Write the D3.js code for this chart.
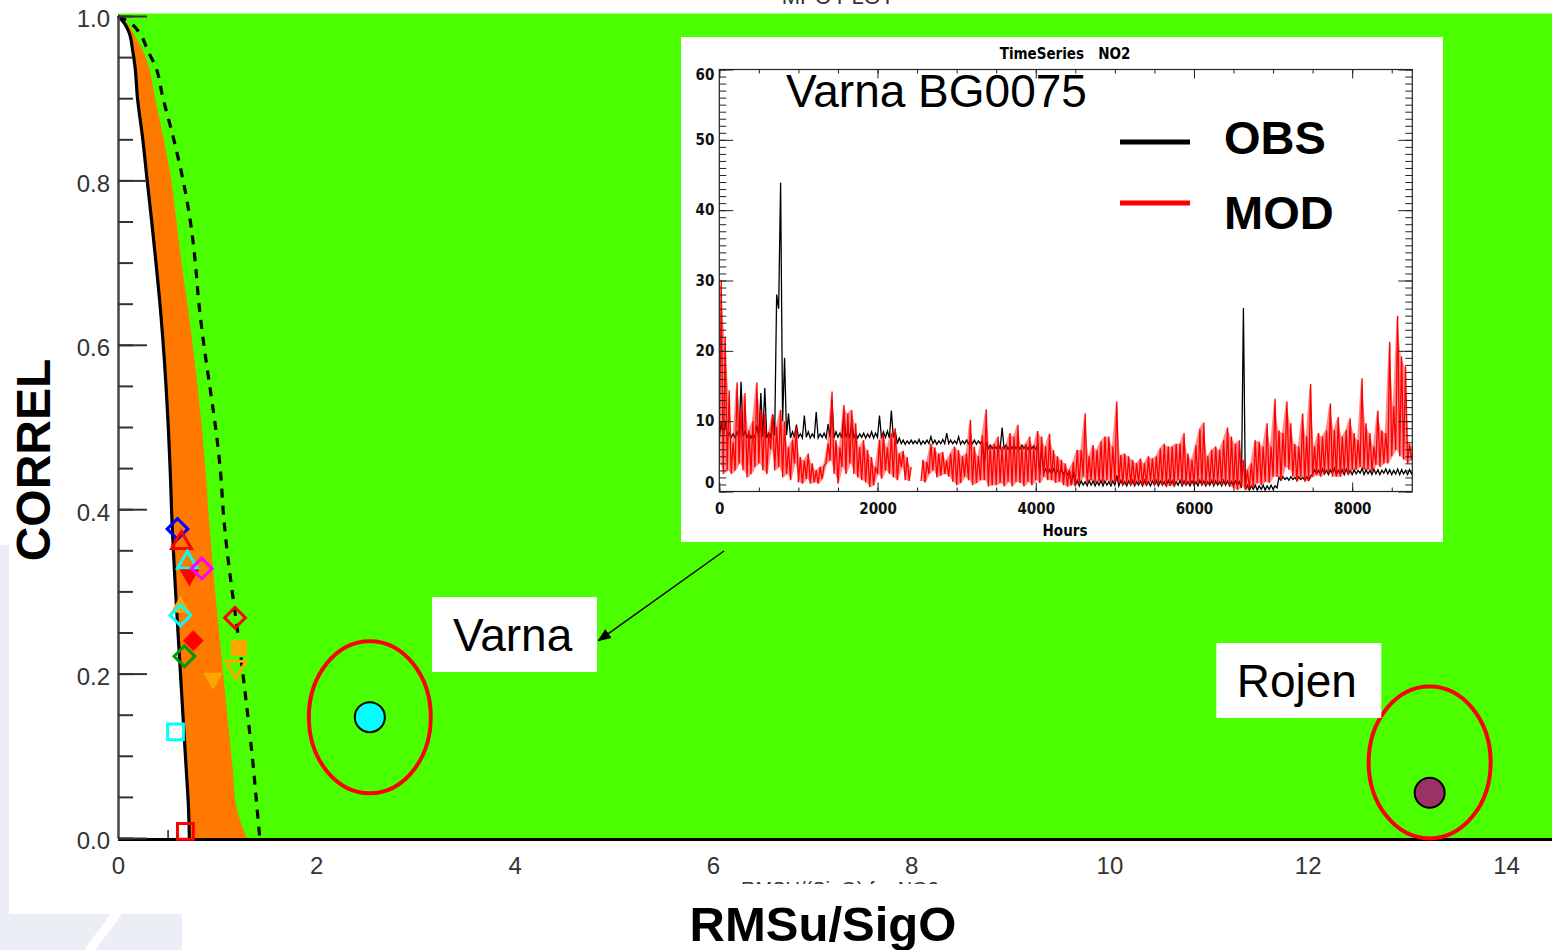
<!DOCTYPE html>
<html>
<head>
<meta charset="utf-8">
<script src="https://cdn.jsdelivr.net/npm/d3@7"></script>
<style>
  html, body { margin: 0; padding: 0; background: #ffffff; }
  svg { display: block; }
  .num { font-family: "Liberation Sans", Arial, sans-serif; }
  .idl { font-family: "Liberation Sans Narrow", "Arial Narrow", "DejaVu Sans Condensed", sans-serif; font-weight: bold; }
  .big { font-family: "Liberation Sans", Arial, Helvetica, sans-serif; }
</style>
</head>
<body>
<svg id="chart" width="1552" height="950"></svg>
<script>
// ---------------- MPC diagram: criteria curves (correlation vs RMSu/SigO) ----------------
const curveR      = [1.0, 0.99, 0.979, 0.958, 0.938, 0.902, 0.851, 0.798, 0.75, 0.70, 0.658, 0.436, 0.40, 0.20, 0.08, 0.04, 0.0];
const curveSolid  = [0.0, 0.07, 0.114, 0.148, 0.172, 0.195, 0.249, 0.296, 0.340, 0.383, 0.417, 0.53, 0.54, 0.63, 0.69, 0.71, 0.72];
const curveOrange = [0.0, 0.10, 0.155, 0.25, 0.31, 0.37, 0.46, 0.54, 0.59, 0.64, 0.69, 0.89, 0.91, 1.06, 1.16, 1.19, 1.30];
const curveDashed = [0.0, 0.14, 0.22, 0.30, 0.38, 0.45, 0.56, 0.66, 0.73, 0.78, 0.81, 1.04, 1.06, 1.26, 1.37, 1.40, 1.43];

// station markers near the criteria band
const stX     = [0.60, 0.64, 0.70, 0.72, 0.845, 0.63, 0.63, 1.18, 0.76, 0.67, 1.22, 1.19, 0.96, 0.58, 0.68];
const stR     = [0.376, 0.359, 0.335, 0.32, 0.328, 0.281, 0.271, 0.268, 0.240, 0.221, 0.231, 0.208, 0.194, 0.129, 0.008];
const stShape = ["diamond", "triUp", "triUp", "triDown", "diamond", "triUp", "diamond", "diamond", "diamond", "diamond", "square", "triDown", "triDown", "square", "square"];
const stColor = ["#0000ff", "#ff0000", "#00ffff", "#ff0000", "#ff00ff", "#ffa500", "#00ffff", "#ff0000", "#ff0000", "#009900", "#ffa500", "#ffa500", "#ffa500", "#00ffff", "#ff0000"];
const stFill  = [false, false, false, true, false, true, false, false, true, false, true, false, true, false, false];

// highlighted stations
const hlName  = ["Varna", "Rojen"];
const hlX     = [2.54, 13.23];
const hlR     = [0.147, 0.055];
const hlColor = ["#00ffff", "#993366"];
const hlRingR = [0.147, 0.092];
const hlLabelX = [4.0, 11.91];
const hlLabelR = [0.2475, 0.1916];

const xTicks = [0, 2, 4, 6, 8, 10, 12, 14];
const yTicks = [0.0, 0.2, 0.4, 0.6, 0.8, 1.0];

// ---------------- Inset: hourly NO2 at Varna BG0075, min/max per 50-hour window ----------------
const tsStep = 50;
const modHi = [30, 22, 14.4, 7, 15.5, 11.6, 14, 8.7, 10, 15.5,
  11.6, 11, 8.2, 11, 9.2, 11.6, 10, 6.3, 7.3, 9.2,
  4.9, 4.4, 5.4, 4, 3, 3.5, 3.7, 6.8, 14.2, 7.3,
  6.3, 12.3, 11.1, 11.6, 9.7, 6.3, 7.3, 5.9, 4.9, 3.5,
  7.3, 8.2, 6.3, 8.2, 9, 5.4, 5.8, 4.9, 3.5, null,
  null, 4.5, 4.2, 6.8, 6.3, 5.4, 5.6, 4.4, 5.4, 6.4,
  5.9, 5.0, 5.4, 10.2, 6.4, 5.0, 8.0, 11.7, 6.4, 6.8,
  7.8, 6.4, 6.4, 8.3, 7.8, 9.5, 6.4, 6.8, 7.8, 6.4,
  8.6, 7.8, 6.4, 8.2, 5.9, 5.0, 4.5, 4.0, 3.1, 4.2,
  5.9, 5.9, 11.1, 5.0, 6.6, 5.9, 7.1, 7.8, 7.8, 6.4,
  12.8, 5.2, 5.4, 5.0, 4.5, 4.0, 4.7, 4.0, 5.0, 4.7,
  5.0, 6.1, 6.8, 6.4, 6.4, 6.8, 6.8, 8.3, 5.4, 4.5,
  6.6, 8.9, 9.8, 5.0, 5.9, 6.4, 5.9, 7.3, 9.1, 7.8,
  6.8, 7.3, 4.5, 3.1, 4.0, 7.3, 7.1, 6.4, 9.7, 6.4,
  13.2, 8.7, 8.3, 12.8, 9.7, 6.8, 6.4, 11.1, 7.8, 15.3,
  6.4, 8.3, 7.8, 8.7, 12.5, 8.7, 10.6, 7.8, 8.7, 10.4,
  8.3, 7.3, 16.1, 9.7, 8.3, 6.4, 11.5, 8.7, 8.3, 21.3,
  12.1, 25.0, 19.2, 17.8, 6.8, 6.4];
const modLo = [4, 2.5, 3, 2.5, 3, 4, 3, 2, 2.5, 3.5,
  4, 3, 2.5, 6, 3, 3.5, 2, 2.5, 1.6, 4,
  1.3, 1.1, 1.8, 1.1, 1.3, 1.1, 1.8, 4, 4.4, 2.5,
  1.1, 3.5, 2.5, 4, 2.5, 2, 1.6, 1.3, 0.6, 0.9,
  2.5, 1.8, 3, 2.5, 2, 1.6, 3.5, 1.6, 1.5, null,
  null, 1.5, 1.3, 2.5, 3, 2, 2.3, 2.5, 2.1, 1.4,
  0.9, 1.2, 2.1, 1.6, 0.9, 1.2, 1.6, 1.6, 0.7, 0.9,
  0.9, 1.2, 0.7, 1.4, 0.7, 1.4, 1.2, 0.7, 1.4, 0.9,
  1.6, 1.2, 2.1, 1.6, 1.6, 1.2, 1.4, 0.9, 0.7, 0.9,
  0.9, 1.2, 2.1, 1.2, 1.6, 1.2, 1.4, 1.2, 1.6, 1.2,
  1.4, 1.2, 0.9, 1.2, 0.9, 0.9, 1.2, 0.9, 0.9, 1.4,
  0.9, 1.2, 0.9, 0.7, 0.9, 0.7, 1.6, 0.9, 0.9, 1.2,
  0.9, 1.2, 0.9, 0.9, 1.2, 0.9, 1.2, 0.9, 1.2, 0.7,
  0.45, 0.2, 0.7, 0.2, 0.45, 0.7, 1.2, 0.9, 1.4, 1.2,
  2.1, 2.1, 1.6, 3.5, 3.1, 2.1, 1.4, 2.1, 1.4, 1.6,
  2.1, 2.3, 2.1, 2.6, 2.8, 2.1, 2.1, 2.1, 2.8, 2.3,
  3.1, 3.1, 3.5, 3.1, 3.1, 2.8, 3.8, 3.5, 4.0, 4.0,
  5.0, 5.9, 5.0, 4.5, 4.0, 4.5];
const obsHi = [10.0, 10.1, 8.3, 8.2, 8.5, 15.6, 8.6, 8.3, 8.2, 9.4,
  14.0, 14.7, 8.3, 10.9, 28.0, 43.9, 19.0, 11.1, 8.5, 9.5,
  8.2, 10.8, 8.5, 8.2, 11.3, 8.2, 8.3, 9.6, 13.0, 8.5,
  8.3, 11.3, 8.5, 10.0, 8.3, 8.2, 8.3, 8.2, 8.5, 8.3,
  10.8, 8.5, 8.6, 11.5, 8.5, 7.6, 7.3, 7.2, 7.3, 7.2,
  7.4, 7.2, 7.3, 7.8, 7.3, 7.2, 7.4, 8.3, 7.3, 7.2,
  7.8, 7.2, 7.3, 7.2, 7.3, 7.2, 7.2, 7.0, 6.6, 6.5,
  6.6, 9.1, 6.6, 6.5, 6.6, 6.5, 6.6, 6.5, 6.6, 6.5,
  6.6, 6.5, 3.2, 3.1, 3.2, 3.0, 3.1, 3.1, 2.9, 2.8,
  1.6, 1.5, 1.4, 1.6, 1.5, 1.4, 1.6, 1.5, 1.4, 1.5,
  2.3, 1.6, 1.4, 1.5, 1.6, 1.4, 1.5, 1.6, 1.4, 1.5,
  1.6, 1.5, 1.4, 1.6, 1.5, 1.4, 1.6, 1.5, 1.4, 1.5,
  1.4, 1.6, 1.5, 1.4, 1.6, 1.5, 1.4, 1.6, 1.5, 1.4,
  1.5, 1.4, 26.1, 0.9, 0.8, 0.9, 0.8, 0.9, 0.8, 0.9,
  0.8, 2.0, 2.1, 2.0, 2.1, 2.0, 2.1, 2.0, 2.1, 2.2,
  3.1, 3.0, 3.2, 3.0, 3.1, 3.3, 3.0, 3.1, 3.2, 3.0,
  3.1, 3.0, 3.3, 3.1, 3.0, 3.2, 3.1, 3.0, 3.2, 3.1,
  3.0, 3.2, 3.1, 3.0, 3.1, 3.0];
const obsLo = [7.6, 7.8, 7.7, 7.7, 7.6, 7.7, 7.8, 7.7, 7.6, 7.7,
  7.7, 7.8, 7.6, 7.7, 8.0, 26.0, 10.0, 8.0, 7.6, 7.7,
  7.7, 7.6, 7.7, 7.6, 7.7, 7.6, 7.7, 7.6, 7.7, 7.6,
  7.7, 7.6, 7.7, 7.6, 7.7, 7.6, 7.7, 7.6, 7.7, 7.6,
  7.7, 7.6, 7.7, 7.6, 7.7, 6.8, 6.8, 6.7, 6.8, 6.8,
  6.8, 6.7, 6.8, 6.8, 6.8, 6.7, 6.8, 6.8, 6.8, 6.8,
  6.8, 6.7, 6.8, 6.8, 6.8, 6.7, 6.8, 4.0, 6.1, 6.1,
  6.1, 6.1, 6.1, 6.0, 6.1, 6.1, 6.0, 6.1, 6.0, 6.1,
  6.0, 2.5, 2.6, 2.6, 2.5, 2.5, 2.6, 2.5, 2.4, 1.0,
  0.9, 0.8, 0.9, 0.8, 0.9, 0.8, 0.9, 0.8, 0.9, 0.8,
  0.9, 0.8, 0.9, 0.8, 0.9, 0.8, 0.9, 0.8, 0.9, 0.8,
  0.9, 0.8, 0.9, 0.8, 0.9, 0.8, 0.9, 0.8, 0.9, 0.8,
  0.9, 0.8, 0.9, 0.8, 0.9, 0.8, 0.9, 0.8, 0.9, 0.8,
  0.8, 0.9, 0.5, 0.3, 0.2, 0.3, 0.2, 0.3, 0.2, 0.3,
  0.3, 0.5, 1.6, 1.7, 1.6, 1.7, 1.6, 1.7, 1.6, 1.6,
  2.4, 2.5, 2.4, 2.5, 2.4, 2.6, 2.4, 2.5, 2.4, 2.5,
  2.4, 2.5, 2.6, 2.4, 2.5, 2.4, 2.5, 2.4, 2.6, 2.5,
  2.4, 2.5, 2.4, 2.5, 2.4, 2.5];
const tsYTicks = [0, 10, 20, 30, 40, 50, 60];
const tsXTicks = [0, 2000, 4000, 6000, 8000];
const seriesName = ["OBS", "MOD"];
const seriesColor = ["#000000", "#ff0000"];

// ---------------- drawing ----------------
const W = 1552, H = 950;
const svg = d3.select("#chart");
const GREEN = "#4cff00", ORANGE = "#ff7800", SLIDE = "#eceef5";

// light slide backdrop peeking out at the lower-left corner
svg.append("rect").attr("x", 0).attr("y", 545).attr("width", 9).attr("height", 370).attr("fill", SLIDE);
svg.append("rect").attr("x", 0).attr("y", 914).attr("width", 182).attr("height", 36).attr("fill", SLIDE);
svg.append("line").attr("x1", 118).attr("y1", 912).attr("x2", 88).attr("y2", 952).attr("stroke", "#fff").attr("stroke-width", 9);

const x = d3.scaleLinear().domain([0, 14]).range([118, 1506]);
const y = d3.scaleLinear().domain([0, 1]).range([838, 16]);
const xEdge = x.invert(W);

const curveRows = curveR.map((r, i) => ({ r, s: curveSolid[i], o: curveOrange[i], d: curveDashed[i] }));

// small ticks along the correlation-zero line (only the ones left of the band stay visible)
svg.append("g")
  .attr("transform", `translate(0,${y(0)})`)
  .call(d3.axisBottom(x).tickValues(d3.range(0.5, 14.6, 0.5)).tickSizeInner(-8).tickSizeOuter(0).tickFormat(""))
  .call(g => g.select(".domain").remove())
  .call(g => g.selectAll("line").attr("stroke", "#222").attr("stroke-width", 1.5));

// green zone: everything right of the solid criteria curve
svg.append("rect").attr("x", x(0)).attr("y", y(1) - 2.5).attr("width", W - x(0)).attr("height", 2.8).attr("fill", GREEN);
svg.append("path")
  .datum(curveRows)
  .attr("fill", GREEN)
  .attr("d", d3.area().curve(d3.curveMonotoneY).y(d => y(d.r)).x0(d => x(d.s)).x1(() => x(xEdge)));

// orange band
svg.append("path")
  .datum(curveRows)
  .attr("fill", ORANGE)
  .attr("d", d3.area().curve(d3.curveMonotoneY).y(d => y(d.r)).x0(d => x(d.s)).x1(d => x(d.o)));

// solid and dashed criteria curves
svg.append("path").datum(curveRows)
  .attr("fill", "none").attr("stroke", "#000").attr("stroke-width", 3.2)
  .attr("d", d3.line().curve(d3.curveMonotoneY).x(d => x(d.s)).y(d => y(d.r)));
svg.append("path").datum(curveRows)
  .attr("fill", "none").attr("stroke", "#000").attr("stroke-width", 3.2).attr("stroke-dasharray", "9,8")
  .attr("d", d3.line().curve(d3.curveMonotoneY).x(d => x(d.d)).y(d => y(d.r)));

// x axis line and labels
svg.append("line").attr("x1", x(0)).attr("x2", W).attr("y1", y(0) + 1.5).attr("y2", y(0) + 1.5)
  .attr("stroke", "#000").attr("stroke-width", 3);
svg.append("g")
  .attr("transform", `translate(0,${y(0)})`)
  .call(d3.axisBottom(x).tickValues(xTicks).tickSize(0).tickPadding(19).tickFormat(d3.format("d")))
  .call(g => g.select(".domain").remove())
  .call(g => g.selectAll("text").attr("class", "num").attr("font-size", 24).attr("fill", "#333"));

// y axis: minor and major ticks pointing into the plot
svg.append("g")
  .attr("transform", `translate(${x(0)},0)`)
  .call(d3.axisLeft(y).tickValues(d3.range(0, 1.001, 0.05)).tickSizeInner(-15).tickSizeOuter(0).tickFormat(""))
  .call(g => g.selectAll("line").attr("stroke", "#333").attr("stroke-width", 2))
  .call(g => g.select(".domain").attr("stroke", "#444").attr("stroke-width", 2.5));
svg.append("g")
  .attr("transform", `translate(${x(0)},0)`)
  .call(d3.axisLeft(y).tickValues(yTicks).tickSizeInner(-29).tickSizeOuter(0).tickPadding(8).tickFormat(d3.format(".1f")))
  .call(g => g.select(".domain").remove())
  .call(g => g.selectAll("line").attr("stroke", "#333").attr("stroke-width", 2))
  .call(g => g.selectAll("text").attr("class", "num").attr("font-size", 24).attr("fill", "#333").attr("dy", "0.45em"));

// station markers
const shapes = {
  diamond: d3.symbol(d3.symbolSquare, 215)(),
  square: d3.symbol(d3.symbolSquare, 250)(),
  triUp: d3.symbol(d3.symbolTriangle, 170)(),
  triDown: d3.symbol(d3.symbolTriangle, 170)()
};
const rot = { diamond: 45, square: 0, triUp: 0, triDown: 180 };
svg.append("g").selectAll("path")
  .data(stX.map((v, i) => ({ x: v, r: stR[i], shape: stShape[i], c: stColor[i], f: stFill[i] })))
  .join("path")
  .attr("transform", d => `translate(${x(d.x)},${y(d.r)}) rotate(${rot[d.shape]})`)
  .attr("d", d => shapes[d.shape])
  .attr("fill", d => d.f ? d.c : "none")
  .attr("stroke", d => d.f ? "none" : d.c)
  .attr("stroke-width", 3);

// highlighted stations with rings and labels
const hl = hlName.map((n, i) => ({ n, x: hlX[i], r: hlR[i], c: hlColor[i], ring: hlRingR[i], lx: hlLabelX[i], lr: hlLabelR[i] }));
const hg = svg.append("g");
hg.selectAll("ellipse").data(hl).join("ellipse")
  .attr("cx", d => x(d.x)).attr("cy", d => y(d.ring)).attr("rx", 61).attr("ry", 76)
  .attr("fill", "none").attr("stroke", "#ff0000").attr("stroke-width", 4);
hg.selectAll("circle").data(hl).join("circle")
  .attr("cx", d => x(d.x)).attr("cy", d => y(d.r)).attr("r", 15)
  .attr("fill", d => d.c).attr("stroke", "#000").attr("stroke-width", 2);
const lab = hg.selectAll("g.lab").data(hl).join("g").attr("class", "lab")
  .attr("transform", d => `translate(${x(d.lx)},${y(d.lr)})`);
lab.append("rect").attr("x", -82.5).attr("y", -37.5).attr("width", 165).attr("height", 75).attr("fill", "#fff");
lab.append("text").attr("class", "big").attr("text-anchor", "middle").attr("x", -2).attr("y", 16)
  .attr("font-size", 46).attr("fill", "#000").text(d => d.n);

// axis titles
svg.append("text").attr("class", "big").attr("font-weight", "bold").attr("font-size", 49)
  .attr("text-anchor", "middle").attr("x", 823).attr("y", 941).text("RMSu/SigO");
svg.append("text").attr("class", "big").attr("font-weight", "bold").attr("font-size", 48)
  .attr("text-anchor", "middle").attr("transform", "translate(50,460) rotate(-90)").text("CORREL");

// partly hidden original plot title and axis caption
svg.append("text").attr("class", "num").attr("font-size", 22).attr("fill", "#333")
  .attr("text-anchor", "middle").attr("x", 838).attr("y", 4).text("MPC PLOT");
svg.append("clipPath").attr("id", "capClip").append("rect").attr("x", 0).attr("y", 0).attr("width", W).attr("height", 884);
svg.append("text").attr("class", "num").attr("font-size", 20).attr("fill", "#333").attr("clip-path", "url(#capClip)")
  .attr("text-anchor", "middle").attr("x", 840).attr("y", 896).text("RMSU/(SigO) for NO2");

// ---------------- inset time series ----------------
const inset = svg.append("g");
inset.append("rect").attr("x", 681).attr("y", 37).attr("width", 762).attr("height", 505).attr("fill", "#fff");
const tx = d3.scaleLinear().domain([0, 8760]).range([719.3, 1412.3]);
const ty = d3.scaleLinear().domain([0, 60]).range([491.5, 69.5]);

inset.append("clipPath").attr("id", "tsClip").append("rect")
  .attr("x", tx(0)).attr("y", ty(60)).attr("width", tx(8760) - tx(0)).attr("height", ty(0) - ty(60));

function zigzag(lo, hi) {
  const pts = [];
  lo.forEach((v, i) => {
    pts.push({ t: i * tsStep, v });
    pts.push({ t: i * tsStep + tsStep / 2, v: hi[i] });
  });
  return pts;
}
function windows(lo, hi) {
  return lo.map((v, i) => ({ t: i * tsStep + tsStep / 4, lo: v, hi: hi[i] }));
}
const tsLine = d3.line().defined(d => d.v !== null).x(d => tx(d.t)).y(d => ty(d.v));
const tsBand = d3.area().defined(d => d.lo !== null).x(d => tx(d.t)).y0(d => ty(d.lo)).y1(d => ty(d.hi));
const plotG = inset.append("g").attr("clip-path", "url(#tsClip)");
plotG.append("path").datum(zigzag(obsLo, obsHi)).attr("fill", "none").attr("stroke", seriesColor[0]).attr("stroke-width", 1.3).attr("d", tsLine);
plotG.append("path").datum(windows(modLo, modHi)).attr("fill", seriesColor[1]).attr("fill-opacity", 0.45).attr("d", tsBand);
plotG.append("path").datum(zigzag(modLo, modHi)).attr("fill", "none").attr("stroke", seriesColor[1]).attr("stroke-width", 1.3).attr("d", tsLine);

// frame with ticks on all four sides
const tickStyle = g => g.selectAll("line").attr("stroke", "#222").attr("stroke-width", 1);
const noDomain = g => g.select(".domain").remove();
inset.append("g").attr("transform", `translate(${tx(0)},0)`)
  .call(d3.axisLeft(ty).tickValues(d3.range(0, 61, 1)).tickSizeInner(-7).tickSizeOuter(0).tickFormat(""))
  .call(noDomain).call(tickStyle);
inset.append("g").attr("transform", `translate(${tx(0)},0)`)
  .call(d3.axisLeft(ty).tickValues(tsYTicks).tickSizeInner(-14).tickSizeOuter(0).tickPadding(5).tickFormat(d3.format("d")))
  .call(noDomain).call(tickStyle)
  .call(g => g.selectAll("text").attr("class", "idl").attr("font-size", 15).attr("fill", "#111")
    .attr("dy", d => d === 0 ? "-0.25em" : d === 60 ? "0.65em" : "0.32em"));
inset.append("g").attr("transform", `translate(${tx(8760)},0)`)
  .call(d3.axisRight(ty).tickValues(d3.range(0, 61, 1)).tickSizeInner(-7).tickSizeOuter(0).tickFormat(""))
  .call(noDomain).call(tickStyle);
inset.append("g").attr("transform", `translate(${tx(8760)},0)`)
  .call(d3.axisRight(ty).tickValues(tsYTicks).tickSizeInner(-14).tickSizeOuter(0).tickFormat(""))
  .call(noDomain).call(tickStyle);
inset.append("g").attr("transform", `translate(0,${ty(60)})`)
  .call(d3.axisTop(tx).tickValues(d3.range(0, 8761, 500)).tickSizeInner(-4).tickSizeOuter(0).tickFormat(""))
  .call(noDomain).call(tickStyle);
inset.append("g").attr("transform", `translate(0,${ty(60)})`)
  .call(d3.axisTop(tx).tickValues(tsXTicks).tickSizeInner(-9).tickSizeOuter(0).tickFormat(""))
  .call(noDomain).call(tickStyle);
inset.append("g").attr("transform", `translate(0,${ty(0)})`)
  .call(d3.axisBottom(tx).tickValues(d3.range(0, 8761, 500)).tickSizeInner(-4).tickSizeOuter(0).tickFormat(""))
  .call(noDomain).call(tickStyle);
inset.append("g").attr("transform", `translate(0,${ty(0)})`)
  .call(d3.axisBottom(tx).tickValues(tsXTicks).tickSizeInner(-9).tickSizeOuter(0).tickPadding(12).tickFormat(d3.format("d")))
  .call(noDomain).call(tickStyle)
  .call(g => g.selectAll("text").attr("class", "idl").attr("font-size", 15).attr("fill", "#111"));
inset.append("rect").attr("x", tx(0)).attr("y", ty(60)).attr("width", tx(8760) - tx(0)).attr("height", ty(0) - ty(60))
  .attr("fill", "none").attr("stroke", "#222").attr("stroke-width", 1.2);

inset.append("text").attr("class", "idl").attr("font-size", 15).attr("text-anchor", "middle")
  .attr("x", 1065).attr("y", 59).attr("xml:space", "preserve").text("TimeSeries   NO2");
inset.append("text").attr("class", "idl").attr("font-size", 15).attr("text-anchor", "middle")
  .attr("x", 1065).attr("y", 536).text("Hours");
inset.append("text").attr("class", "big").attr("font-size", 46).attr("x", 786).attr("y", 107).text("Varna BG0075");

// legend
const leg = inset.append("g").selectAll("g").data(seriesName).join("g")
  .attr("transform", (d, i) => `translate(1120,${142 + i * 61})`);
leg.append("line").attr("x1", 0).attr("x2", 70).attr("stroke", (d, i) => seriesColor[i]).attr("stroke-width", 5);
leg.append("text").attr("class", "big").attr("font-weight", "bold").attr("font-size", 47)
  .attr("x", 104).attr("y", (d, i) => i === 0 ? 12 : 26).text(d => d);

// pointer from the Varna label to the inset
svg.append("defs").append("marker").attr("id", "arrowHead").attr("viewBox", "0 0 10 10")
  .attr("refX", 9).attr("refY", 5).attr("markerWidth", 9).attr("markerHeight", 9).attr("orient", "auto")
  .append("path").attr("d", "M0,1 L10,5 L0,9 Z").attr("fill", "#000");
svg.append("line").attr("x1", 724).attr("y1", 551).attr("x2", x(hlLabelX[0]) + 84).attr("y2", y(hlLabelR[0]) + 6)
  .attr("stroke", "#000").attr("stroke-width", 1.5).attr("marker-end", "url(#arrowHead)");
</script>
</body>
</html>
